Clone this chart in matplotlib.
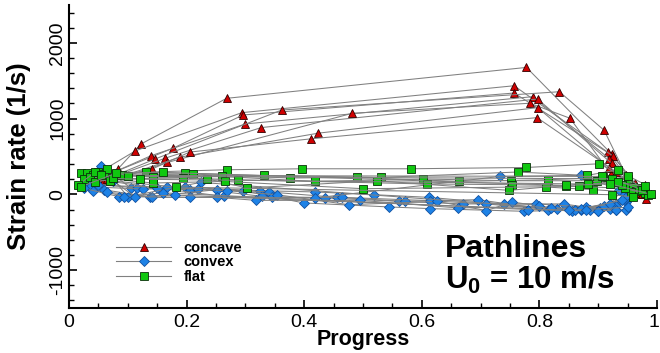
import matplotlib
matplotlib.use("Agg")
import matplotlib.pyplot as plt
from matplotlib.lines import Line2D
from matplotlib.ticker import MultipleLocator, FixedLocator
from matplotlib.transforms import ScaledTranslation

plt.rcParams['font.family'] = ['Liberation Sans', 'DejaVu Sans']
plt.rcParams['mathtext.fontset'] = 'custom'
plt.rcParams['mathtext.bf'] = 'Liberation Sans:bold'
plt.rcParams['mathtext.rm'] = 'Liberation Sans'

# ---------------- data ----------------
concave_x = [
    [0.035, 0.083, 0.122, 0.268, 0.778, 0.923, 0.962, 0.985],
    [0.045, 0.113, 0.294, 0.757, 0.917, 0.965, 0.99],
    [0.05, 0.177, 0.296, 0.757, 0.925, 0.97],
    [0.055, 0.139, 0.300, 0.789, 0.919, 0.975],
    [0.06, 0.146, 0.362, 0.834, 0.910, 0.947, 0.98],
    [0.065, 0.164, 0.327, 0.797, 0.923, 0.975],
    [0.07, 0.167, 0.482, 0.784, 0.852, 0.922, 0.981],
    [0.075, 0.189, 0.424, 0.797, 0.919, 0.97],
    [0.04, 0.141, 0.205, 0.411, 0.796, 0.93, 0.975],
]
concave_y = [
    [240, 334, 663, 1268, 1676, 532, 150, 20],
    [260, 575, 1079, 1434, 553, 60, 0],
    [210, 610, 1048, 1338, 509, 50],
    [220, 509, 930, 1290, 470, 20],
    [190, 466, 1114, 1355, 847, 259, 128],
    [200, 479, 882, 1259, 408, 0],
    [170, 421, 1071, 1203, 1005, 268, -57],
    [200, 492, 808, 1145, 347, 20],
    [150, 334, 558, 733, 1013, 300, 10],
]

convex_x = [
    [0.055, 0.105, 0.197, 0.324, 0.419, 0.518, 0.612, 0.739, 0.841, 0.88, 0.931, 0.95],
    [0.03, 0.115, 0.206, 0.296, 0.399, 0.545, 0.614, 0.773, 0.886, 0.92, 0.948],
    [0.035, 0.125, 0.219, 0.328, 0.435, 0.562, 0.670, 0.795, 0.903, 0.93, 0.945],
    [0.04, 0.137, 0.251, 0.340, 0.455, 0.571, 0.695, 0.815, 0.87, 0.931, 0.95],
    [0.045, 0.150, 0.264, 0.345, 0.464, 0.614, 0.709, 0.855, 0.90, 0.948],
    [0.05, 0.166, 0.268, 0.353, 0.476, 0.626, 0.710, 0.754, 0.83, 0.91, 0.945],
    [0.06, 0.141, 0.251, 0.318, 0.495, 0.662, 0.80, 0.86, 0.92, 0.94],
    [0.025, 0.085, 0.206, 0.419, 0.733, 0.871, 0.935],
    [0.07, 0.100, 0.224, 0.82, 0.87, 0.94],
    [0.065, 0.093, 0.16, 0.78, 0.90, 0.93],
    [0.075, 0.112, 0.18, 0.85, 0.88, 0.95],
]
convex_y = [
    [381, 84, 92, 49, 32, -4, -39, -126, -126, -170, -126, -50],
    [150, 84, 62, 49, -113, -166, -188, -223, -201, -190, -100],
    [100, 71, 75, -26, -47, -92, -126, -126, -179, -210, -60],
    [50, -30, 62, 32, -39, -92, -70, -201, -210, -150, 0],
    [200, 84, -26, -39, -39, -83, -126, -223, -215, -201],
    [120, 92, 49, -4, -136, -92, -214, -100, -190, -150, -30],
    [60, -39, -39, -79, -79, -179, -160, -200, -130, 50],
    [80, -30, -39, -47, 237, 250, 60],
    [250, -30, 158, -180, -190, -80],
    [30, -30, 20, -200, -220, -200],
    [180, -30, -10, -210, -200, -170],
]

flat_x = [
    [0.02, 0.131, 0.268, 0.397, 0.581, 0.777, 0.902, 0.95, 0.975],
    [0.03, 0.197, 0.331, 0.530, 0.763, 0.881, 0.934, 0.97],
    [0.04, 0.211, 0.376, 0.489, 0.663, 0.815, 0.909, 0.96],
    [0.05, 0.143, 0.260, 0.418, 0.602, 0.751, 0.898, 0.965],
    [0.025, 0.194, 0.288, 0.609, 0.753, 0.846, 0.951, 0.98],
    [0.06, 0.234, 0.303, 0.524, 0.749, 0.811, 0.892, 0.955],
    [0.035, 0.143, 0.265, 0.500, 0.868, 0.945, 0.985],
    [0.07, 0.182, 0.923, 0.96],
    [0.015, 0.045, 0.09, 0.907, 0.94],
    [0.045, 0.065, 0.10, 0.924, 0.975],
    [0.055, 0.075, 0.12, 0.883, 0.933, 0.98],
    [0.02, 0.08, 0.16, 0.845, 0.92, 0.99],
]
flat_y = [
    [281, 294, 325, 338, 338, 355, 404, 200, 80],
    [281, 281, 250, 224, 295, 250, 325, 60],
    [250, 268, 216, 224, 171, 193, 224, 100],
    [300, 224, 237, 171, 203, 180, 180, 50],
    [200, 216, 193, 137, 128, 114, 237, 20],
    [270, 207, 84, 180, 53, 97, 62, 30],
    [230, 150, 171, 75, 105, 80, -4],
    [180, 97, -4, -34],
    [120, 300, 250, 237, 130],
    [160, 330, 240, 205, 60],
    [260, 210, 200, 137, 158, 110],
    [100, 280, 290, 118, 140, 0],
]

series_labels = ["concave", "convex", "flat"]
x_ticks = [0, 0.2, 0.4, 0.6, 0.8, 1.0]
x_tick_labels = ["0", "0.2", "0.4", "0.6", "0.8", "1"]
y_ticks = [-1000, 0, 1000, 2000]
y_tick_labels = ["-1000", "0", "1000", "2000"]

# ---------------- styles ----------------
line_col = "#808080"
styles = {
    "concave": dict(marker="^", mfc="#d00000", mec="#300000", ms=6.3),
    "convex": dict(marker="D", mfc="#1e82e6", mec="#1050a0", ms=4.8),
    "flat": dict(marker="s", mfc="#10c810", mec="#0a300a", ms=5.4),
}

fig = plt.figure(figsize=(6.6, 3.53), dpi=100)
ax = fig.add_axes([69 / 660, 1 - 308 / 353, 588 / 660, 303 / 353])

for name, xs, ys in [("concave", concave_x, concave_y),
                     ("convex", convex_x, convex_y),
                     ("flat", flat_x, flat_y)]:
    st = styles[name]
    for px, py in zip(xs, ys):
        ax.plot(px, py, color=line_col, lw=0.75, marker=st["marker"],
                mfc=st["mfc"], mec=st["mec"], ms=st["ms"], mew=0.6, zorder=3)

ax.set_xlim(0, 1)
ax.set_ylim(-1500, 2500)

for s in ["top", "right"]:
    ax.spines[s].set_visible(False)
for s in ["left", "bottom"]:
    ax.spines[s].set_linewidth(1.5)

ax.xaxis.set_major_locator(FixedLocator(x_ticks))
ax.set_xticklabels(x_tick_labels)
ax.xaxis.set_minor_locator(MultipleLocator(0.05))
ax.yaxis.set_major_locator(FixedLocator(y_ticks))
ax.set_yticklabels(y_tick_labels, rotation=90, va="center")
ax.yaxis.set_minor_locator(MultipleLocator(200))

ax.tick_params(which="major", direction="in", length=6, width=1.2, labelsize=14)
ax.tick_params(axis="x", which="major", pad=4)
ax.tick_params(axis="y", which="major", pad=2)
ax.tick_params(which="minor", direction="in", length=3.5, width=1.0)

# nudge the last x label so it stays inside the figure
last = ax.get_xticklabels()[-1]
last.set_transform(last.get_transform() + ScaledTranslation(-3 / 100, 0, fig.dpi_scale_trans))

ax.set_xlabel("Progress", fontsize=15.5, fontweight="bold")
ax.xaxis.set_label_coords(0.5, -0.068)
ax.xaxis.label.set_va("top")
ax.set_ylabel("Strain rate (1/s)", fontsize=18.5, fontweight="bold")
ax.yaxis.set_label_coords(-0.064, 0.5)

handles = [Line2D([], [], color=line_col, lw=0.8, marker=styles[n]["marker"],
                  mfc=styles[n]["mfc"], mec=styles[n]["mec"], ms=styles[n]["ms"], mew=0.6)
           for n in series_labels]
leg = ax.legend(handles, series_labels, loc="upper left", bbox_to_anchor=(0.08, 0.222),
                frameon=False, prop=dict(weight="bold", size=10.5), handlelength=3.8,
                handletextpad=0.85, labelspacing=0.05, borderpad=0, borderaxespad=0,
                numpoints=1)

ax.text(0.639, 0.168, "Pathlines", transform=ax.transAxes, fontsize=23,
        fontweight="bold", ha="left", va="baseline")
ax.text(0.639, 0.062, r"$\mathbf{U_0}$ = 10 m/s", transform=ax.transAxes, fontsize=22.5,
        fontweight="bold", ha="left", va="baseline")

fig.savefig("out.png", dpi=100)
